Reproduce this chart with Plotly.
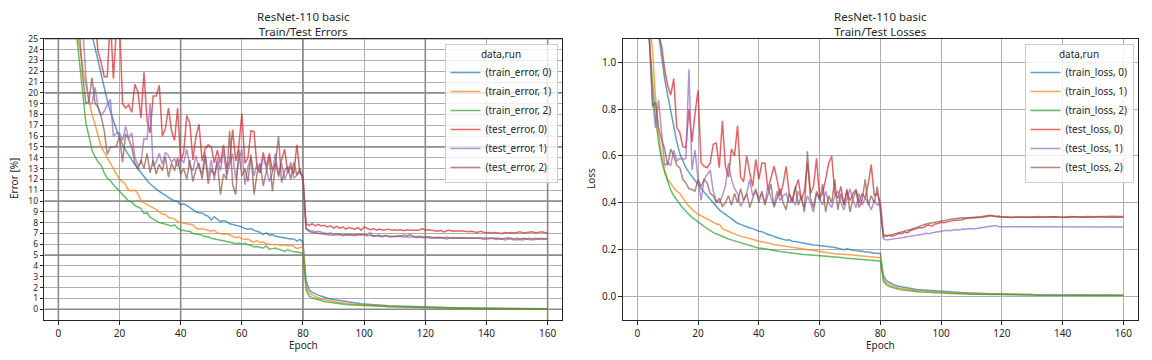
import plotly.graph_objects as go

epochs = list(range(1, 161))

train_error_0 = [
    68, 52, 44, 39, 35.5, 33, 31, 29.3, 27.8, 26.6,
    25.5, 24.2, 22.9, 21.6, 20.4, 19.3, 18.3, 17.4, 16.6, 15.9,
    15.2, 14.7, 14.2, 13.8, 13.4, 13.0, 12.6, 12.2, 11.9, 11.6,
    11.3, 11.1, 10.9, 10.7, 10.5, 10.3, 10.15, 10.0, 9.95, 9.65,
    9.75, 9.6, 9.4, 9.2, 9.0, 8.9, 8.9, 8.7, 8.6, 8.25,
    8.55, 8.3, 8.1, 8.2, 8.1, 7.9, 7.85, 7.8, 7.7, 7.6,
    7.45, 7.4, 7.45, 7.3, 7.2, 7.1, 6.9, 7.05, 6.85, 6.9,
    6.75, 6.7, 6.6, 6.6, 6.55, 6.5, 6.5, 6.3, 6.45, 6.2,
    2.7, 1.8, 1.55, 1.4, 1.3, 1.2, 1.1, 1.05, 0.95, 0.9,
    0.85, 0.8, 0.75, 0.7, 0.65, 0.62, 0.58, 0.55, 0.5, 0.48,
    0.45, 0.43, 0.41, 0.38, 0.36, 0.35, 0.33, 0.31, 0.3, 0.28,
    0.27, 0.25, 0.24, 0.23, 0.22, 0.21, 0.2, 0.19, 0.18, 0.18,
    0.17, 0.16, 0.16, 0.15, 0.15, 0.14, 0.13, 0.13, 0.12, 0.12,
    0.12, 0.11, 0.11, 0.1, 0.1, 0.1, 0.09, 0.09, 0.09, 0.09,
    0.08, 0.08, 0.08, 0.08, 0.07, 0.07, 0.07, 0.07, 0.06, 0.06,
    0.06, 0.06, 0.06, 0.06, 0.05, 0.05, 0.05, 0.05, 0.05, 0.05,
]
train_error_1 = [
    62, 43, 35, 30.5, 27.5, 25.6, 24.2, 22.2, 20.7, 19.4,
    18.0, 17.1, 16.0, 15.0, 14.5, 14.0, 13.6, 13.1, 12.6, 12.0,
    11.8, 11.5, 11.0, 10.95, 11.0, 10.7, 10.0, 9.85, 9.7, 9.5,
    9.35, 9.2, 9.0, 8.8, 8.75, 8.5, 8.4, 8.35, 8.1, 8.0,
    7.95, 7.9, 7.85, 7.8, 7.5, 7.4, 7.45, 7.35, 7.3, 7.2,
    7.3, 7.05, 7.0, 6.9, 7.0, 6.85, 6.75, 6.6, 6.7, 6.5,
    6.45, 6.5, 6.3, 6.2, 6.35, 6.15, 6.2, 6.05, 6.0, 6.0,
    6.0, 5.95, 5.9, 5.95, 5.85, 5.9, 5.8, 5.6, 5.7, 5.75,
    2.2, 1.5, 1.3, 1.15, 1.05, 0.95, 0.88, 0.82, 0.75, 0.7,
    0.66, 0.62, 0.58, 0.55, 0.52, 0.49, 0.46, 0.44, 0.42, 0.4,
    0.38, 0.36, 0.34, 0.32, 0.31, 0.29, 0.28, 0.27, 0.25, 0.24,
    0.23, 0.22, 0.21, 0.2, 0.19, 0.18, 0.17, 0.16, 0.16, 0.15,
    0.14, 0.14, 0.13, 0.13, 0.12, 0.12, 0.11, 0.11, 0.1, 0.1,
    0.1, 0.09, 0.09, 0.09, 0.08, 0.08, 0.08, 0.08, 0.07, 0.07,
    0.07, 0.07, 0.06, 0.06, 0.06, 0.06, 0.06, 0.05, 0.05, 0.05,
    0.05, 0.05, 0.05, 0.04, 0.04, 0.04, 0.04, 0.04, 0.04, 0.04,
]
train_error_2 = [
    58, 40, 32, 28.5, 26.5, 25.3, 22.5, 20.0, 17.2, 16.0,
    14.7, 14.1, 13.6, 13.3, 12.6, 12.1, 11.9, 11.5, 11.2, 10.95,
    10.6, 10.3, 10.0, 9.9, 9.6, 9.45, 9.3, 8.85, 8.9, 8.5,
    8.35, 8.2, 8.0, 7.95, 7.85, 7.75, 7.7, 7.8, 7.5, 7.35,
    7.25, 7.2, 7.2, 7.0, 6.95, 6.9, 6.85, 6.7, 6.7, 6.55,
    6.5, 6.4, 6.35, 6.3, 6.25, 6.2, 6.15, 6.05, 6.1, 6.0,
    6.1, 5.95, 5.9, 5.75, 5.8, 5.7, 5.65, 5.85, 5.55, 5.6,
    5.65, 5.55, 5.45, 5.35, 5.5, 5.4, 5.3, 5.3, 5.2, 5.15,
    1.8, 1.2, 1.05, 0.95, 0.85, 0.78, 0.72, 0.67, 0.62, 0.58,
    0.54, 0.5, 0.47, 0.44, 0.42, 0.4, 0.38, 0.36, 0.34, 0.33,
    0.31, 0.3, 0.28, 0.27, 0.26, 0.25, 0.24, 0.23, 0.22, 0.21,
    0.2, 0.19, 0.18, 0.17, 0.16, 0.16, 0.15, 0.14, 0.14, 0.13,
    0.13, 0.12, 0.12, 0.11, 0.11, 0.1, 0.1, 0.1, 0.09, 0.09,
    0.09, 0.08, 0.08, 0.08, 0.07, 0.07, 0.07, 0.07, 0.06, 0.06,
    0.06, 0.06, 0.06, 0.05, 0.05, 0.05, 0.05, 0.05, 0.04, 0.04,
    0.04, 0.04, 0.04, 0.04, 0.04, 0.03, 0.03, 0.03, 0.03, 0.03,
]
test_error_0 = [
    75, 55, 45, 40, 36, 33, 31, 30, 28.5, 27,
    28, 26.5, 23.8, 22.8, 21.5, 21.5, 27, 21.3, 26, 26.5,
    19.0, 18.6, 18.9, 18.2, 20.8, 20.1, 17.7, 21.9, 17.4, 16.3,
    19.7, 19.7, 20.7, 16.0, 16.7, 18.6, 16.5, 15.6, 18.6, 13.7,
    14.5, 17.9, 17.2, 13.8, 16.0, 17.1, 13.7, 14.8, 15.2, 15.0,
    13.5, 14.7, 13.5, 15.2, 13.0, 13.7, 16.6, 13.7, 15.0, 18.1,
    13.5, 14.0, 16.5, 16.4, 13.0, 12.6, 14.5, 13.2, 14.4, 12.8,
    13.5, 12.4, 13.8, 14.8, 12.6, 13.2, 12.5, 15.2, 12.6, 12.3,
    7.9, 7.75, 7.9, 7.7, 7.85, 7.7, 7.75, 7.6, 7.7, 7.5,
    7.65, 7.5, 7.6, 7.4, 7.55, 7.45, 7.4, 7.55, 7.3, 7.6,
    7.45, 7.35, 7.45, 7.3, 7.4, 7.3, 7.35, 7.4, 7.3, 7.35,
    7.3, 7.35, 7.25, 7.35, 7.3, 7.3, 7.25, 7.3, 7.45, 7.3,
    7.35, 7.3, 7.25, 7.2, 7.3, 7.15, 7.25, 7.3, 7.2, 7.25,
    7.2, 7.25, 7.2, 7.15, 7.2, 7.15, 7.1, 7.2, 7.1, 7.05,
    7.1, 7.05, 7.1, 7.05, 7.0, 7.1, 7.05, 7.1, 7.05, 7.1,
    7.15, 7.05, 7.1, 7.1, 7.15, 7.05, 7.1, 7.15, 7.1, 7.05,
]
test_error_1 = [
    72, 52, 41, 35, 31, 28.5, 27, 25.8, 21.5, 19.0,
    19.0, 20.5, 18.6, 17.9, 18.3, 18.9, 19.4, 16.0, 16.3, 16.3,
    15.6, 16.9, 15.8, 16.3, 14.1, 13.3, 13.5, 15.8, 15.7, 19.0,
    13.2, 13.6, 14.4, 13.4, 14.5, 14.2, 13.6, 13.9, 13.2, 14.0,
    13.5, 14.8, 13.2, 12.8, 14.2, 13.0, 12.5, 14.5, 12.2, 13.8,
    11.9, 14.0, 12.8, 14.6, 12.4, 13.3, 14.4, 12.0, 13.7, 14.8,
    11.5, 13.2, 14.0, 12.3, 13.5, 12.6, 14.2, 13.0, 11.8, 12.6,
    14.4, 12.2, 13.5, 12.0, 12.7, 13.6, 12.1, 12.4, 12.7, 12.2,
    7.5, 7.3, 7.2, 7.15, 7.2, 7.1, 7.05, 7.0, 7.05, 6.95,
    7.0, 6.95, 6.9, 6.95, 6.85, 6.9, 6.9, 6.85, 6.9, 6.85,
    6.9, 7.1, 6.75, 6.8, 6.7, 6.75, 6.8, 6.7, 6.75, 6.7,
    6.7, 6.75, 6.65, 6.7, 6.65, 6.7, 6.6, 6.65, 6.6, 6.65,
    6.6, 6.55, 6.6, 6.55, 6.6, 6.55, 6.5, 6.55, 6.6, 6.55,
    6.55, 6.5, 6.55, 6.5, 6.55, 6.5, 6.5, 6.55, 6.45, 6.5,
    6.5, 6.55, 6.45, 6.5, 6.5, 6.4, 6.45, 6.5, 6.4, 6.45,
    6.45, 6.4, 6.5, 6.45, 6.4, 6.45, 6.5, 6.45, 6.5, 6.5,
]
test_error_2 = [
    70, 48, 38, 32, 28.5, 26.5, 25.2, 21.5, 19.0, 19.2,
    21.4, 19.0, 18.7, 17.8, 16.5, 14.3, 15.0, 15.0, 15.1, 16.0,
    13.6, 16.2, 15.7, 15.0, 13.5, 12.9, 13.8, 13.0, 14.4, 12.6,
    13.8, 12.5, 13.4, 12.8, 14.1, 12.2, 13.5, 12.8, 14.0, 12.5,
    13.0, 12.0, 13.8, 11.8, 12.9, 13.5, 12.0, 14.2, 11.6, 13.0,
    12.4, 13.6, 10.6, 12.5, 12.0, 16.5, 11.5, 10.6, 14.8, 12.3,
    13.0, 11.8, 14.3, 10.6, 12.6, 13.5, 11.4, 12.7, 14.0, 10.9,
    13.2, 16.0, 11.7, 12.8, 13.2, 12.0, 13.6, 12.4, 13.0, 11.8,
    7.4, 7.2, 7.1, 7.05, 7.0, 6.95, 6.95, 6.9, 6.85, 6.85,
    6.85, 6.9, 6.8, 6.85, 6.9, 6.85, 6.8, 6.9, 6.85, 6.9,
    6.8, 6.85, 6.75, 6.8, 6.85, 6.7, 6.8, 6.75, 6.7, 6.75,
    6.8, 6.75, 6.85, 6.8, 6.9, 6.75, 6.7, 6.75, 6.7, 6.65,
    6.7, 6.65, 6.6, 6.65, 6.6, 6.6, 6.65, 6.6, 6.55, 6.6,
    6.6, 6.55, 6.6, 6.55, 6.6, 6.55, 6.6, 6.55, 6.6, 6.55,
    6.55, 6.6, 6.55, 6.55, 6.5, 6.55, 6.6, 6.55, 6.5, 6.55,
    6.5, 6.55, 6.5, 6.55, 6.5, 6.55, 6.5, 6.55, 6.5, 6.55,
]

train_loss_0 = [
    2.1, 1.75, 1.55, 1.4, 1.28, 1.18, 1.12, 1.02, 0.93, 0.86,
    0.79, 0.72, 0.66, 0.61, 0.58, 0.55, 0.53, 0.51, 0.495, 0.48,
    0.46, 0.445, 0.43, 0.415, 0.4, 0.385, 0.37, 0.36, 0.35, 0.34,
    0.332, 0.322, 0.313, 0.308, 0.302, 0.297, 0.293, 0.29, 0.283, 0.279,
    0.277, 0.27, 0.265, 0.262, 0.256, 0.252, 0.248, 0.243, 0.24, 0.242,
    0.236, 0.235, 0.232, 0.229, 0.227, 0.226, 0.222, 0.22, 0.219, 0.218,
    0.216, 0.215, 0.212, 0.212, 0.209, 0.207, 0.205, 0.2, 0.204, 0.2,
    0.198, 0.197, 0.193, 0.194, 0.19, 0.19, 0.187, 0.185, 0.185, 0.184,
    0.09, 0.068, 0.06, 0.053, 0.048, 0.044, 0.041, 0.038, 0.036, 0.034,
    0.032, 0.03, 0.029, 0.028, 0.026, 0.025, 0.024, 0.023, 0.022, 0.021,
    0.02, 0.019, 0.019, 0.018, 0.017, 0.017, 0.016, 0.016, 0.015, 0.015,
    0.014, 0.014, 0.013, 0.013, 0.013, 0.012, 0.012, 0.012, 0.011, 0.011,
    0.011, 0.01, 0.01, 0.01, 0.01, 0.009, 0.009, 0.009, 0.009, 0.009,
    0.008, 0.008, 0.008, 0.008, 0.008, 0.008, 0.008, 0.008, 0.008, 0.008,
    0.008, 0.008, 0.007, 0.007, 0.007, 0.007, 0.007, 0.007, 0.007, 0.007,
    0.007, 0.007, 0.007, 0.007, 0.006, 0.006, 0.006, 0.006, 0.006, 0.006,
]
train_loss_1 = [
    2.0, 1.6, 1.35, 1.18, 1.05, 0.85, 0.7, 0.6, 0.54, 0.5,
    0.48, 0.465, 0.45, 0.44, 0.42, 0.4, 0.385, 0.372, 0.36, 0.35,
    0.345, 0.338, 0.33, 0.322, 0.315, 0.31, 0.308, 0.29, 0.284, 0.278,
    0.272, 0.268, 0.262, 0.258, 0.255, 0.25, 0.248, 0.244, 0.24, 0.236,
    0.234, 0.232, 0.228, 0.226, 0.222, 0.22, 0.218, 0.215, 0.212, 0.21,
    0.208, 0.206, 0.205, 0.202, 0.2, 0.198, 0.196, 0.194, 0.192, 0.19,
    0.189, 0.187, 0.186, 0.185, 0.183, 0.182, 0.18, 0.181, 0.179, 0.178,
    0.176, 0.175, 0.175, 0.173, 0.172, 0.171, 0.17, 0.168, 0.167, 0.166,
    0.075, 0.058, 0.05, 0.045, 0.041, 0.037, 0.035, 0.032, 0.03, 0.029,
    0.027, 0.026, 0.025, 0.024, 0.022, 0.021, 0.02, 0.02, 0.019, 0.018,
    0.017, 0.017, 0.016, 0.015, 0.015, 0.014, 0.014, 0.013, 0.013, 0.012,
    0.012, 0.012, 0.011, 0.011, 0.011, 0.01, 0.01, 0.01, 0.01, 0.009,
    0.009, 0.009, 0.009, 0.009, 0.008, 0.008, 0.008, 0.008, 0.008, 0.008,
    0.008, 0.007, 0.007, 0.007, 0.007, 0.007, 0.007, 0.007, 0.007, 0.007,
    0.007, 0.006, 0.006, 0.006, 0.006, 0.006, 0.006, 0.006, 0.006, 0.006,
    0.006, 0.006, 0.006, 0.006, 0.006, 0.006, 0.006, 0.006, 0.006, 0.006,
]
train_loss_2 = [
    2.0, 1.5, 1.25, 1.08, 0.9, 0.76, 0.66, 0.58, 0.53, 0.49,
    0.455, 0.43, 0.41, 0.395, 0.378, 0.362, 0.35, 0.338, 0.328, 0.318,
    0.308, 0.3, 0.29, 0.282, 0.273, 0.268, 0.262, 0.255, 0.25, 0.246,
    0.242, 0.238, 0.234, 0.23, 0.226, 0.222, 0.22, 0.216, 0.21, 0.206,
    0.206, 0.203, 0.2, 0.198, 0.196, 0.194, 0.192, 0.19, 0.189, 0.187,
    0.185, 0.184, 0.182, 0.181, 0.18, 0.179, 0.178, 0.177, 0.176, 0.175,
    0.174, 0.172, 0.171, 0.17, 0.168, 0.167, 0.165, 0.166, 0.163, 0.162,
    0.162, 0.16, 0.159, 0.158, 0.157, 0.156, 0.155, 0.154, 0.153, 0.152,
    0.065, 0.05, 0.043, 0.038, 0.034, 0.031, 0.029, 0.027, 0.025, 0.024,
    0.022, 0.021, 0.02, 0.019, 0.018, 0.017, 0.017, 0.016, 0.015, 0.015,
    0.014, 0.014, 0.013, 0.013, 0.012, 0.012, 0.011, 0.011, 0.011, 0.01,
    0.01, 0.01, 0.01, 0.009, 0.009, 0.009, 0.009, 0.008, 0.008, 0.008,
    0.008, 0.008, 0.008, 0.007, 0.007, 0.007, 0.007, 0.007, 0.007, 0.007,
    0.007, 0.006, 0.006, 0.006, 0.006, 0.006, 0.006, 0.006, 0.006, 0.006,
    0.006, 0.006, 0.005, 0.005, 0.005, 0.005, 0.005, 0.005, 0.005, 0.005,
    0.005, 0.005, 0.005, 0.005, 0.005, 0.005, 0.005, 0.005, 0.005, 0.005,
]
test_loss_0 = [
    2.5, 1.8, 1.5, 1.35, 1.25, 1.18, 1.12, 1.07, 0.97, 0.9,
    0.86, 0.93, 0.72, 0.70, 0.64, 0.635, 0.8, 0.66, 0.78, 0.88,
    0.57, 0.556, 0.55, 0.57, 0.65, 0.655, 0.55, 0.75, 0.556, 0.51,
    0.63, 0.6, 0.73, 0.51, 0.49, 0.6, 0.53, 0.47, 0.585, 0.5,
    0.57, 0.57, 0.456, 0.51, 0.556, 0.5, 0.43, 0.48, 0.556, 0.44,
    0.4, 0.46, 0.5, 0.414, 0.45, 0.57, 0.44, 0.47, 0.59, 0.42,
    0.44, 0.5, 0.57, 0.6, 0.44, 0.42, 0.47, 0.39, 0.45, 0.41,
    0.44, 0.457, 0.4, 0.44, 0.42, 0.48, 0.563, 0.43, 0.44, 0.4,
    0.265, 0.26, 0.262, 0.258, 0.262, 0.27, 0.268, 0.275, 0.272, 0.283,
    0.285, 0.29, 0.295, 0.293, 0.303, 0.305, 0.3, 0.31, 0.312, 0.317,
    0.315, 0.32, 0.322, 0.325, 0.326, 0.33, 0.328, 0.333, 0.335, 0.336,
    0.335, 0.338, 0.337, 0.34, 0.342, 0.345, 0.346, 0.342, 0.344, 0.34,
    0.338, 0.339, 0.337, 0.338, 0.34, 0.338, 0.337, 0.339, 0.338, 0.34,
    0.338, 0.337, 0.339, 0.34, 0.338, 0.339, 0.341, 0.34, 0.338, 0.339,
    0.338, 0.337, 0.34, 0.341, 0.338, 0.339, 0.338, 0.34, 0.339, 0.338,
    0.34, 0.342, 0.341, 0.339, 0.338, 0.34, 0.339, 0.338, 0.339, 0.34,
]
test_loss_1 = [
    2.4, 1.7, 1.35, 1.1, 0.85, 0.72, 0.84, 0.7, 0.56, 0.57,
    0.56, 0.625, 0.58, 0.59, 0.585, 0.59, 0.97, 0.54, 0.625, 0.5,
    0.41, 0.5, 0.52, 0.54, 0.45, 0.41, 0.4, 0.43, 0.47, 0.57,
    0.5, 0.46, 0.44, 0.385, 0.41, 0.44, 0.5, 0.43, 0.45, 0.42,
    0.44, 0.4, 0.47, 0.42, 0.39, 0.45, 0.41, 0.43, 0.44, 0.4,
    0.42, 0.39, 0.45, 0.41, 0.38, 0.43, 0.4, 0.36, 0.44, 0.42,
    0.39, 0.45, 0.4, 0.38, 0.43, 0.45, 0.4, 0.37, 0.42, 0.46,
    0.41, 0.38, 0.44, 0.39, 0.42, 0.4, 0.37, 0.41, 0.39, 0.4,
    0.247, 0.241, 0.243, 0.245, 0.248, 0.25, 0.252, 0.253, 0.255, 0.258,
    0.26, 0.262, 0.265, 0.266, 0.27, 0.268, 0.272, 0.274, 0.276, 0.28,
    0.279, 0.283, 0.281, 0.285, 0.286, 0.284, 0.288, 0.287, 0.29, 0.289,
    0.288, 0.292, 0.294, 0.296, 0.295, 0.299, 0.3, 0.303, 0.298, 0.298,
    0.297, 0.298, 0.296, 0.297, 0.298, 0.297, 0.296, 0.298, 0.297, 0.298,
    0.299, 0.297, 0.298, 0.297, 0.296, 0.298, 0.297, 0.299, 0.298, 0.297,
    0.296, 0.297, 0.298, 0.297, 0.296, 0.297, 0.298, 0.297, 0.296, 0.297,
    0.298, 0.297, 0.298, 0.296, 0.297, 0.299, 0.297, 0.296, 0.297, 0.297,
]
test_loss_2 = [
    2.3, 1.6, 1.3, 1.1, 0.81, 0.83, 0.72, 0.67, 0.63, 0.56,
    0.63, 0.6, 0.56, 0.55, 0.5, 0.485, 0.46, 0.457, 0.45, 0.5,
    0.47, 0.5, 0.485, 0.44, 0.43, 0.4, 0.42, 0.385, 0.4, 0.43,
    0.39, 0.44, 0.4, 0.46, 0.41, 0.44, 0.38, 0.42, 0.46, 0.4,
    0.45, 0.39, 0.43, 0.48, 0.38, 0.42, 0.46, 0.4, 0.37, 0.44,
    0.41, 0.47, 0.39, 0.43, 0.36, 0.62, 0.42, 0.38, 0.45, 0.41,
    0.48, 0.36, 0.43, 0.4, 0.5, 0.37, 0.44, 0.39, 0.46, 0.36,
    0.42, 0.45, 0.38, 0.41, 0.5, 0.39, 0.43, 0.4, 0.47, 0.36,
    0.255, 0.258, 0.262, 0.265, 0.268, 0.272, 0.276, 0.28, 0.283, 0.286,
    0.29, 0.295, 0.3, 0.305, 0.31, 0.312, 0.315, 0.318, 0.32, 0.322,
    0.325, 0.327, 0.33, 0.332, 0.333, 0.335, 0.336, 0.335, 0.337, 0.336,
    0.338, 0.34, 0.341, 0.343, 0.346, 0.347, 0.344, 0.341, 0.34, 0.341,
    0.34, 0.339, 0.341, 0.34, 0.339, 0.34, 0.341, 0.34, 0.339, 0.341,
    0.34, 0.342, 0.341, 0.34, 0.339, 0.34, 0.341, 0.342, 0.34, 0.339,
    0.341, 0.34, 0.342, 0.341, 0.34, 0.339, 0.341, 0.342, 0.341, 0.34,
    0.341, 0.342, 0.341, 0.34, 0.342, 0.343, 0.342, 0.341, 0.342, 0.343,
]

error_names = ["(train_error, 0)", "(train_error, 1)", "(train_error, 2)",
               "(test_error, 0)", "(test_error, 1)", "(test_error, 2)"]
loss_names = ["(train_loss, 0)", "(train_loss, 1)", "(train_loss, 2)",
              "(test_loss, 0)", "(test_loss, 1)", "(test_loss, 2)"]
colors = ["#1f77b4", "#ff7f0e", "#2ca02c", "#d62728", "#9467bd", "#8c564b"]

error_series = [train_error_0, train_error_1, train_error_2,
                test_error_0, test_error_1, test_error_2]
loss_series = [train_loss_0, train_loss_1, train_loss_2,
               test_loss_0, test_loss_1, test_loss_2]

x_ticks = [0, 20, 40, 60, 80, 100, 120, 140, 160]
err_yticks = list(range(0, 26))
loss_yticks = [0.0, 0.2, 0.4, 0.6, 0.8, 1.0]
loss_ylabels = ["0.0", "0.2", "0.4", "0.6", "0.8", "1.0"]
err_major_x = [0, 40, 80, 120, 160]
err_major_y = [0, 5, 10, 15, 20, 25]
err_xrange = [-4.6, 164.8]
err_yrange = [-1, 25]
loss_xrange = [-4.8, 164.9]
loss_yrange = [-0.1, 1.1]

FONT = "Noto Sans, DejaVu Sans, sans-serif"
TXT = "#262626"
# the page body has an 8px default margin: figure spans page pixels 8..1144 x 8..352
OFF = 8
W, H = 1136, 344


def px(page_x):
    return (page_x - OFF) / W


def py(page_y):
    return 1 - (page_y - OFF) / H


fig = go.Figure()

# darker major grid lines on the error panel (drawn under the data)
for gx in err_major_x:
    fig.add_trace(go.Scatter(x=[gx, gx], y=err_yrange, mode="lines",
                             line=dict(color="#8a8a8a", width=1.6), hoverinfo="skip",
                             showlegend=False, xaxis="x", yaxis="y"))
for gy in err_major_y:
    fig.add_trace(go.Scatter(x=err_xrange, y=[gy, gy], mode="lines",
                             line=dict(color="#8a8a8a", width=1.6), hoverinfo="skip",
                             showlegend=False, xaxis="x", yaxis="y"))

for name, ys, c in zip(error_names, error_series, colors):
    fig.add_trace(go.Scatter(x=epochs, y=ys, name=name, mode="lines",
                             line=dict(color=c, width=1.5), opacity=0.7,
                             xaxis="x", yaxis="y", legend="legend"))
for name, ys, c in zip(loss_names, loss_series, colors):
    fig.add_trace(go.Scatter(x=epochs, y=ys, name=name, mode="lines",
                             line=dict(color=c, width=1.5), opacity=0.7,
                             xaxis="x2", yaxis="y2", legend="legend2"))

L1, R1 = px(44.3), px(562.3)
L2, R2 = px(622.7), px(1138.3)
B, T = py(320), py(38.8)

axis_common = dict(showline=True, mirror=True, linecolor=TXT, linewidth=1,
                   ticks="outside", ticklen=3.5, tickwidth=1, tickcolor=TXT,
                   showgrid=True, gridcolor="#b0b0b0", gridwidth=1,
                   zeroline=False, automargin=False)
tick_font = dict(family=FONT, size=10, color=TXT)
dense_tick_font = dict(family=FONT, size=8.5, color=TXT)

legend_common = dict(xanchor="right", y=py(44), yanchor="top",
                     bgcolor="rgba(255,255,255,0.8)", bordercolor="#cccccc", borderwidth=1,
                     font=dict(family=FONT, size=10, color=TXT),
                     title=dict(text="data,run", side="top center",
                                font=dict(family=FONT, size=10, color=TXT)),
                     tracegroupgap=0, itemwidth=30)

fig.update_layout(
    width=W, height=H,
    margin=dict(l=0, r=0, t=0, b=0),
    paper_bgcolor="white", plot_bgcolor="white",
    font=dict(family=FONT, size=10, color=TXT),
    xaxis=dict(domain=[L1, R1], range=err_xrange, tickmode="array",
               tickvals=x_ticks, anchor="y", tickfont=tick_font, **axis_common),
    yaxis=dict(domain=[B, T], range=err_yrange, tickmode="array",
               tickvals=err_yticks, anchor="x", tickfont=dense_tick_font, **axis_common),
    xaxis2=dict(domain=[L2, R2], range=loss_xrange, tickmode="array",
                tickvals=x_ticks, anchor="y2", tickfont=tick_font, **axis_common),
    yaxis2=dict(domain=[B, T], range=loss_yrange, tickmode="array",
                tickvals=loss_yticks, ticktext=loss_ylabels, anchor="x2",
                tickfont=tick_font, **axis_common),
    legend=dict(x=px(557.5), **legend_common),
    legend2=dict(x=px(1133.5), **legend_common),
    showlegend=True,
)

annos = [
    ("ResNet-110 basic<br>Train/Test Errors", (L1 + R1) / 2, py(24.5), 11.5, 0),
    ("ResNet-110 basic<br>Train/Test Losses", (L2 + R2) / 2, py(24.5), 11.5, 0),
    ("Epoch", (L1 + R1) / 2, py(344.5), 10, 0),
    ("Epoch", (L2 + R2) / 2, py(344.5), 10, 0),
    ("Error [%]", px(14), py(179), 10, -90),
    ("Loss", px(591), py(179), 10, -90),
]
for text, ax, ay, size, ang in annos:
    fig.add_annotation(xref="paper", yref="paper", showarrow=False,
                       xanchor="center", yanchor="middle",
                       font=dict(family=FONT, color=TXT, size=size),
                       text=text, x=ax, y=ay, textangle=ang)

fig.write_html("out.html")
